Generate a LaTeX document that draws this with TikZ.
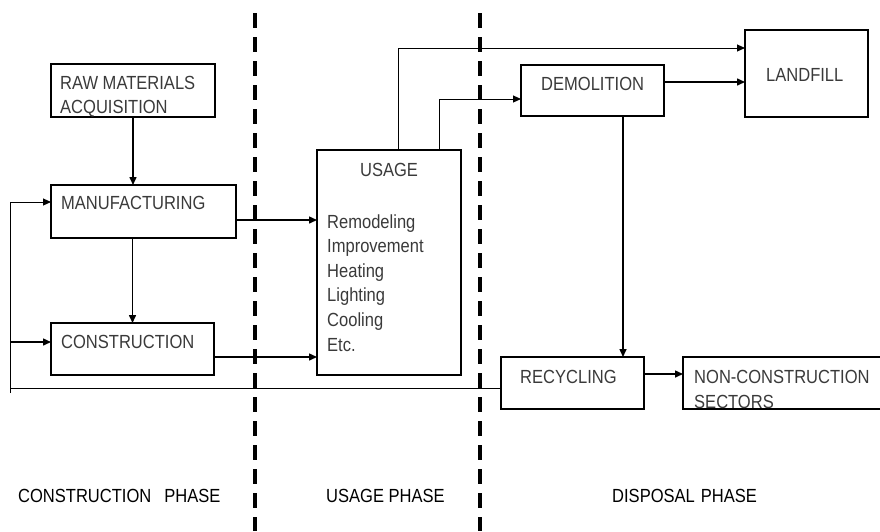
\documentclass[tikz,border=0pt]{standalone}
\usepackage{fontspec}
\setmainfont[FakeStretch=0.87]{Liberation Sans}
\usetikzlibrary{arrows.meta}
\definecolor{txt}{HTML}{3A3A3A}
\begin{document}
\begin{tikzpicture}[x=1pt,y=-1pt,
  box/.style={draw, line width=1.8pt, outer sep=0pt, inner sep=0pt, anchor=north west},
  lbl/.style={anchor=base west, inner sep=0pt, text=txt, font=\fontsize{19}{24}\selectfont},
  phase/.style={anchor=base west, inner sep=0pt, text=black, font=\fontsize{19}{24}\selectfont},
  arr/.style={line width=1.5pt, -{Triangle[length=8pt,width=7pt]}},
  thinarr/.style={line width=1pt, -{Triangle[length=8pt,width=7pt]}},
  thinline/.style={line width=1pt},
  divider/.style={line width=4pt, dash pattern=on 15pt off 9pt}]
\useasboundingbox (0,0) rectangle (880,531);

% phase dividers
\draw[divider] (255,13) -- (255,531);
\draw[divider] (480,13) -- (480,531);

% boxes
\node[box, minimum width=164pt, minimum height=53pt] (raw) at (51,64) {};
\node[box, minimum width=185pt, minimum height=53pt] (manuf) at (51,185) {};
\node[box, minimum width=163pt, minimum height=52pt] (constr) at (51,323) {};
\node[box, minimum width=144pt, minimum height=225pt] (usage) at (317,150) {};
\node[box, minimum width=143pt, minimum height=51pt] (demol) at (521,65) {};
\node[box, minimum width=123pt, minimum height=87pt] (landfill) at (745,30) {};
\node[box, minimum width=143pt, minimum height=52pt] (recyc) at (501,357) {};
\node[box, minimum width=205pt, minimum height=52pt] (noncon) at (683,357) {};

% labels
\node[lbl] (rawA) at (60,89) {RAW MATERIALS};
\node[lbl] (rawB) at (60,113) {ACQUISITION};
\node[lbl] (manufT) at (61,209) {MANUFACTURING};
\node[lbl] (constrT) at (61,348) {CONSTRUCTION};
\node[lbl, anchor=base] (usageT) at (389,176) {USAGE};
\node[lbl] (u1) at (327,228) {Remodeling};
\node[lbl] (u2) at (327,252) {Improvement};
\node[lbl] (u3) at (327,277) {Heating};
\node[lbl] (u4) at (327,301) {Lighting};
\node[lbl] (u5) at (327,326) {Cooling};
\node[lbl] (u6) at (327,351) {Etc.};
\node[lbl] (demolT) at (541,90) {DEMOLITION};
\node[lbl] (landT) at (766,81) {LANDFILL};
\node[lbl] (recycT) at (520,383) {RECYCLING};
\node[lbl] (nonA) at (694,383) {NON-CONSTRUCTION};
\node[lbl] (nonB) at (694,408) {SECTORS};

% phase labels
\node[phase] (ph1) at (18,502) {CONSTRUCTION\hspace{13pt}PHASE};
\node[phase] (ph2) at (326,502) {USAGE PHASE};
\node[phase] (ph3) at (612,502) {DISPOSAL\hspace{6pt}PHASE};

% connectors
\draw[arr] (raw.south) -- (raw.south |- manuf.north);
\draw[arr] (constr.north |- manuf.south) -- (constr.north);
\draw[arr] ([yshift=-8.5pt]manuf.east) -- ([yshift=-8.5pt]manuf.east -| usage.west);
\draw[arr] ([yshift=-8pt]constr.east) -- ([yshift=-8pt]constr.east -| usage.west);
\draw[thinarr] ([xshift=9pt]usage.north) |- ([yshift=25.5pt]landfill.west);
\draw[thinarr] ([xshift=50pt]usage.north) |- ([yshift=-8.5pt]demol.west);
\draw[arr] ([yshift=8.5pt]demol.east) -- ([yshift=8.5pt]demol.east -| landfill.west);
\draw[arr] ([xshift=30.5pt]demol.south) -- ([xshift=30.5pt]demol.south |- recyc.north);
\draw[arr] ([yshift=9pt]recyc.east) -- ([yshift=9pt]recyc.east -| noncon.west);

% feedback from recycling
\coordinate (fbstart) at ([yshift=-5pt]recyc.west);
\coordinate (fbcorner) at (10,388);
\coordinate (fbend) at (10,393);
\coordinate (toManuf) at ([yshift=9.5pt]manuf.west);
\coordinate (toConstr) at ([yshift=7pt]constr.west);
\draw[thinline] (fbstart) -- (fbcorner);
\draw[thinarr] (fbend) |- (toManuf);
\draw[arr] (fbend |- toConstr) -- (toConstr);
\end{tikzpicture}
\end{document}
